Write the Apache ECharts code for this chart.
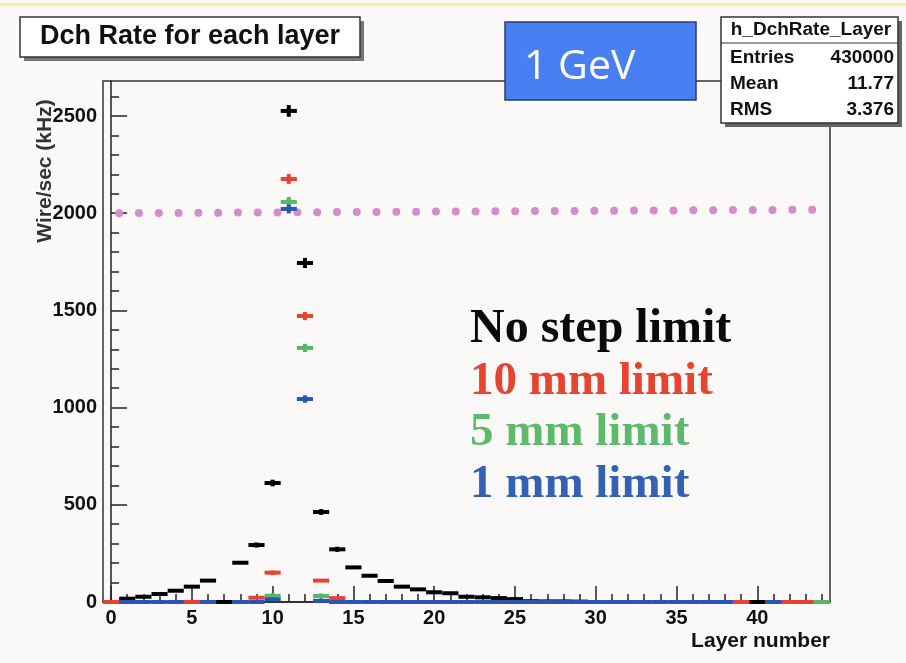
<!DOCTYPE html>
<html>
<head>
<meta charset="utf-8">
<script src="https://cdn.jsdelivr.net/npm/echarts@6/dist/echarts.min.js"></script>
<style>
html,body{margin:0;padding:0;background:#fbf9f9;}
#c{width:906px;height:663px;}
</style>
</head>
<body>
<div id="c"></div>
<script>
// ---- data (index = layer number 0..44) ----
var layers = [];
for (var i = 0; i <= 44; i++) layers.push(i);
var noLimit = [0,17,27,41,58,79,110,0,202,293,612,2526,1744,463,271,178,135,108,79,65,50,45,27,24,20,15,4,3,3,2,null,null,null,null,null,null,null,null,null,null,0,null,null,null,null];
var noLimitErr = {10:12, 11:25, 12:21, 13:10, 9:8, 14:8};
var lim10 = [0,null,null,null,null,0,null,null,null,22,151,2176,1471,110,20,null,null,null,null,null,null,null,null,null,null,null,null,null,null,null,null,null,null,null,null,null,null,null,null,0,null,null,0,0,null];
var lim10Err = {11:20, 12:16, 10:6};
var lim5 = [null,null,null,null,null,null,null,null,null,null,32,2058,1307,31,null,null,null,null,null,null,null,null,null,null,null,null,null,null,null,null,null,null,null,null,null,null,null,null,null,null,null,null,null,null,0];
var lim5Err = {11:20, 12:16, 10:8, 13:8};
var lim1 = [null,0,0,0,0,null,0,null,0,0,14,2022,1044,6,0,0,0,0,0,0,0,0,0,0,0,0,0,0,0,0,0,0,0,0,0,0,0,0,0,null,null,0,null,null,null];
var lim1Err = {11:18, 12:14};
var refLine = [[0.5, 2000], [43.6, 2018]];
var xTicks = [0,5,10,15,20,25,30,35,40];
var yTicks = [0,500,1000,1500,2000,2500];
var statNames = ['Entries','Mean','RMS'];
var statValues = ['430000','11.77','3.376'];
var legendTexts = ['No step limit','10 mm limit','5 mm limit','1 mm limit'];

var minorX = []; for (var k = 0; k <= 44; k++) if (k % 5) minorX.push(k);
var minorY = []; for (var m = 100; m <= 2600; m += 100) if (m % 500) minorY.push(m);

function toData(vals, errs) {
  var out = [];
  for (var j = 0; j < vals.length; j++) {
    if (vals[j] === null || vals[j] === undefined) continue;
    out.push([layers[j], vals[j], errs[j] || 0]);
  }
  return out;
}

function renderBin(params, api) {
  var x = api.value(0), y = api.value(1), e = api.value(2);
  var p0 = api.coord([x - 0.5, y]);
  var p1 = api.coord([x + 0.5, y]);
  var color = api.visual('color');
  var children = [{
    type: 'rect',
    shape: {x: p0[0], y: p0[1] - 2, width: p1[0] - p0[0], height: 4},
    style: {fill: color}
  }];
  if (e > 0) {
    var t = api.coord([x, y + e]), b = api.coord([x, y - e]);
    children.push({
      type: 'rect',
      shape: {x: t[0] - 2, y: t[1] - 1, width: 4, height: b[1] - t[1] + 2},
      style: {fill: color}
    });
  }
  return {type: 'group', children: children};
}

var FONT = 'Liberation Sans, Arial, sans-serif';
var chart = echarts.init(document.getElementById('c'));
chart.setOption({
  backgroundColor: '#fbf9f9',
  animation: false,
  grid: {left: 103, top: 81, right: 76, bottom: 61, show: true, borderColor: '#333', borderWidth: 1.5, backgroundColor: '#fbf8f8'},
  xAxis: [
    {type: 'value', min: -0.5, max: 44.5, position: 'bottom',
     axisLine: {show: true, lineStyle: {color: '#222', width: 1.5}},
     axisTick: {show: true, inside: true, length: 16, customValues: xTicks, lineStyle: {color: '#222', width: 1.5}},
     axisLabel: {customValues: xTicks, color: '#111', fontWeight: 'bold', fontSize: 20, fontFamily: FONT, margin: 6},
     splitLine: {show: false}},
    {type: 'value', min: -0.5, max: 44.5, position: 'bottom', gridIndex: 0,
     axisLine: {show: false},
     axisTick: {show: true, inside: true, length: 8, customValues: minorX, lineStyle: {color: '#222', width: 1.5}},
     axisLabel: {show: false}, splitLine: {show: false}}
  ],
  yAxis: [
    {type: 'value', min: 0, max: 2680,
     axisLine: {show: true, lineStyle: {color: '#222', width: 1.5}},
     axisTick: {show: true, inside: true, length: 16, customValues: yTicks, lineStyle: {color: '#222', width: 1.5}},
     axisLabel: {customValues: yTicks, formatter: function (v) { return String(v); }, color: '#111', fontWeight: 'bold', fontSize: 20, fontFamily: FONT, margin: 6},
     splitLine: {show: false}},
    {type: 'value', min: 0, max: 2680, position: 'left',
     axisLine: {show: false},
     axisTick: {show: true, inside: true, length: 8, customValues: minorY, lineStyle: {color: '#222', width: 1.5}},
     axisLabel: {show: false}, splitLine: {show: false}}
  ],
  series: [
    {type: 'line', data: refLine, symbol: 'none', z: 1,
     lineStyle: {color: '#d48ccc', width: 8, type: [0, 19.8], cap: 'round'}},
    {type: 'custom', renderItem: renderBin, data: toData(noLimit, noLimitErr), itemStyle: {color: '#000'}, z: 2, clip: false},
    {type: 'custom', renderItem: renderBin, data: toData(lim10, lim10Err), itemStyle: {color: '#e8432e'}, z: 3, clip: false},
    {type: 'custom', renderItem: renderBin, data: toData(lim5, lim5Err), itemStyle: {color: '#56b864'}, z: 4, clip: false},
    {type: 'custom', renderItem: renderBin, data: toData(lim1, lim1Err), itemStyle: {color: '#2a55b4'}, z: 5, clip: false}
  ],
  graphic: [
    // top yellow strip
    {type: 'rect', shape: {x: 0, y: 3, width: 906, height: 3}, style: {fill: '#f6ee9a'}, z: 0},
    // title box
    {type: 'rect', shape: {x: 24, y: 21, width: 340, height: 40}, style: {fill: '#777'}, z: 10},
    {type: 'rect', shape: {x: 20, y: 17, width: 340, height: 40}, style: {fill: '#fff', stroke: '#333', lineWidth: 1.5}, z: 11},
    {type: 'text', x: 190, y: 37, style: {text: 'Dch Rate for each layer', font: 'bold 27px ' + FONT, fill: '#111', align: 'center', verticalAlign: 'middle'}, z: 12},
    // 1 GeV box
    {type: 'rect', shape: {x: 505, y: 22, width: 191, height: 78}, style: {fill: '#4a7ff3', stroke: '#2b3d6b', lineWidth: 1.5}, z: 10},
    {type: 'text', x: 524, y: 67, style: {text: '1 GeV', font: '41px Open Sans, sans-serif', fill: '#fff', align: 'left', verticalAlign: 'middle'}, z: 11},
    // stats box
    {type: 'rect', shape: {x: 725, y: 21, width: 177, height: 106}, style: {fill: '#666'}, z: 10},
    {type: 'rect', shape: {x: 721, y: 17, width: 177, height: 106}, style: {fill: '#fff', stroke: '#333', lineWidth: 1.5}, z: 11},
    {type: 'line', shape: {x1: 721, y1: 43, x2: 898, y2: 43}, style: {stroke: '#333', lineWidth: 1.2}, z: 12},
    {type: 'text', x: 811, y: 30, style: {text: 'h_DchRate_Layer', font: 'bold 19px ' + FONT, fill: '#111', align: 'center', verticalAlign: 'middle'}, z: 12},
    {type: 'text', x: 730, y: 58, style: {text: statNames[0], font: 'bold 19px ' + FONT, fill: '#111', verticalAlign: 'middle'}, z: 12},
    {type: 'text', x: 730, y: 84, style: {text: statNames[1], font: 'bold 19px ' + FONT, fill: '#111', verticalAlign: 'middle'}, z: 12},
    {type: 'text', x: 730, y: 110, style: {text: statNames[2], font: 'bold 19px ' + FONT, fill: '#111', verticalAlign: 'middle'}, z: 12},
    {type: 'text', x: 894, y: 58, style: {text: statValues[0], font: 'bold 19px ' + FONT, fill: '#111', align: 'right', verticalAlign: 'middle'}, z: 12},
    {type: 'text', x: 894, y: 84, style: {text: statValues[1], font: 'bold 19px ' + FONT, fill: '#111', align: 'right', verticalAlign: 'middle'}, z: 12},
    {type: 'text', x: 894, y: 110, style: {text: statValues[2], font: 'bold 19px ' + FONT, fill: '#111', align: 'right', verticalAlign: 'middle'}, z: 12},
    // axis names
    {type: 'text', x: 45, y: 171, rotation: Math.PI / 2, style: {text: 'Wire/sec (kHz)', font: 'bold 21px ' + FONT, fill: '#333', align: 'center', verticalAlign: 'middle'}, z: 12},
    {type: 'text', x: 830, y: 641, style: {text: 'Layer number', font: 'bold 21px ' + FONT, fill: '#111', align: 'right', verticalAlign: 'middle'}, z: 12},
    // legend annotation
    {type: 'text', x: 470, y: 330, style: {text: legendTexts[0], font: 'bold 48px Liberation Serif, serif', fill: '#0a0a0a', verticalAlign: 'middle'}, z: 12},
    {type: 'text', x: 470, y: 382, style: {text: legendTexts[1], font: 'bold 47px Liberation Serif, serif', fill: '#e8432e', verticalAlign: 'middle'}, z: 12},
    {type: 'text', x: 470, y: 433, style: {text: legendTexts[2], font: 'bold 47px Liberation Serif, serif', fill: '#5cba6a', verticalAlign: 'middle'}, z: 12},
    {type: 'text', x: 470, y: 485, style: {text: legendTexts[3], font: 'bold 47px Liberation Serif, serif', fill: '#3561b4', verticalAlign: 'middle'}, z: 12}
  ]
});
</script>
</body>
</html>
